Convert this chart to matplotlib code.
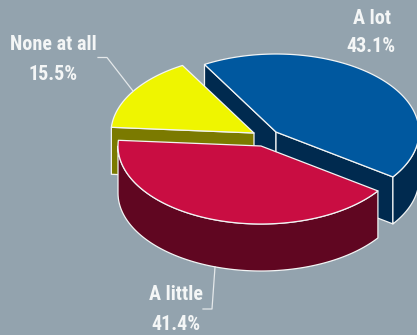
import numpy as np
import matplotlib
matplotlib.use("Agg")
import matplotlib.pyplot as plt

# Survey shares, in percent, clockwise from the upper left
labels = ["A lot", "A little", "None at all"]
shares = [43.1, 41.4, 15.5]
top_colors = ["#00589F", "#C90D42", "#EFF500"]
side_colors = ["#002A4F", "#600621", "#7B7A00"]

BG = "#93A3AE"
EDGE = "#F2F4F4"
START_ANGLE = 120.0
RX, RY, DEPTH = 143, 78, 47
apexes = [(276, 132), (261, 146), (254, 133)]
draw_order = [0, 2, 1]

W, H = 417, 335
fig = plt.figure(figsize=(W / 100, H / 100), dpi=100, facecolor=BG)
ax = fig.add_axes([0, 0, 1, 1])
ax.set_xlim(0, W)
ax.set_ylim(H, 0)
ax.axis("off")


def rim(apex, t0, t1, n=160):
    t = np.radians(np.linspace(t0, t1, n))
    return apex[0] + RX * np.cos(t), apex[1] - RY * np.sin(t)


def face(xs, ys, color, z):
    ax.fill(xs, ys, facecolor=color, edgecolor=EDGE, linewidth=0.9, joinstyle="round", zorder=z)


# Slice spans in degrees, walking clockwise
ends = START_ANGLE - np.cumsum(shares) * 3.6
starts = np.concatenate([[START_ANGLE], ends[:-1]])

for z, i in enumerate(draw_order):
    base = z * 10 + 1
    t0, t1 = starts[i], ends[i]
    ax_, ay_ = apexes[i]
    x, y = rim(apexes[i], t0, t1)

    # A cut face shows only when its outward normal points toward the viewer
    if np.sin(np.radians(t0 + 90)) < 0:
        face([ax_, x[0], x[0], ax_], [ay_, y[0], y[0] + DEPTH, ay_ + DEPTH], side_colors[i], base)
    if np.sin(np.radians(t1 - 90)) < 0:
        face([ax_, x[-1], x[-1], ax_], [ay_, y[-1], y[-1] + DEPTH, ay_ + DEPTH], side_colors[i], base)

    # Outer wall, only where the rim faces the viewer
    lo, hi = max(t1, -180.0), min(t0, 0.0)
    if lo < hi:
        wx, wy = rim(apexes[i], lo, hi)
        face(np.r_[wx, wx[::-1]], np.r_[wy, wy[::-1] + DEPTH], side_colors[i], base + 1)

    # Top surface
    face(np.r_[ax_, x], np.r_[ay_, y], top_colors[i], base + 2)

text_style = dict(family=["Roboto Condensed", "Roboto", "DejaVu Sans"],
                  fontweight="bold", fontsize=14.5, color="#F4F6F6", ha="center", va="center", zorder=50)
ax.text(372, 18, labels[0], **text_style)
ax.text(371, 47, f"{shares[0]}%", **text_style)
ax.text(176, 325, f"{shares[1]}%", **text_style)
ax.text(176, 295, labels[1], **text_style)
ax.text(53, 44, labels[2], **text_style)
ax.text(53, 74, f"{shares[2]}%", **text_style)

# Leader lines for the two labels set away from their slices
ax.plot([98, 107, 133], [57.5, 57.5, 91], color="#E4E8EA", lw=0.9, zorder=45)
ax.plot([203, 212, 215], [309, 309, 267], color="#E4E8EA", lw=0.9, zorder=45)

fig.savefig("out.png", dpi=100, facecolor=BG)
